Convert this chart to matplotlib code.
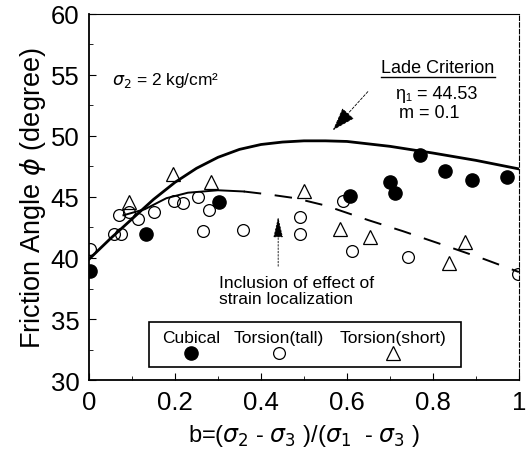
import matplotlib
matplotlib.use('Agg')
import matplotlib.pyplot as plt
import numpy as np

plt.rcParams['font.family'] = ['Liberation Sans', 'DejaVu Sans']

# --- data ---
cub_b = [0.002, 0.132, 0.303, 0.607, 0.700, 0.712, 0.770, 0.829, 0.891, 0.973]
cub_phi = [38.9, 42.0, 44.6, 45.1, 46.2, 45.3, 48.4, 47.15, 46.4, 46.6]

tall_b = [0.002, 0.057, 0.070, 0.074, 0.093, 0.113, 0.152, 0.198, 0.218, 0.253,
          0.265, 0.280, 0.358, 0.490, 0.490, 0.591, 0.611, 0.743, 0.998]
tall_phi = [40.7, 42.0, 43.5, 42.0, 43.8, 43.2, 43.8, 44.7, 44.5, 45.0,
            42.2, 43.9, 42.3, 43.35, 42.0, 44.7, 40.6, 40.05, 38.7]

short_b = [0.093, 0.195, 0.284, 0.500, 0.584, 0.654, 0.837, 0.875]
short_phi = [44.6, 46.9, 46.2, 45.5, 42.4, 41.7, 39.6, 41.3]

lade_b = [0.0, 0.05, 0.10, 0.15, 0.20, 0.25, 0.30, 0.35, 0.40, 0.45, 0.50,
          0.55, 0.60, 0.70, 0.80, 0.90, 1.0]
lade_phi = [39.9, 41.6, 43.2, 44.8, 46.2, 47.35, 48.25, 48.9, 49.3, 49.5, 49.6,
            49.6, 49.55, 49.15, 48.6, 48.0, 47.3]

loc_b = [0.08, 0.13, 0.18, 0.23, 0.30, 0.36]
loc_phi = [43.5, 44.0, 44.9, 45.35, 45.55, 45.45]
locd_b = [0.36, 0.42, 0.48, 0.55, 0.65, 0.73, 0.83, 0.92, 1.0]
locd_phi = [45.45, 45.2, 44.9, 44.3, 43.1, 42.2, 41.0, 39.9, 38.85]

fig = plt.figure(figsize=(5.3, 4.52), dpi=100)
ax = fig.add_axes([0.168, 0.157, 0.811, 0.81])
ax.set_xlim(0, 1)
ax.set_ylim(30, 60)

ax.plot(lade_b, lade_phi, color='black', lw=2.0, zorder=3)
ax.plot(loc_b, loc_phi, color='black', lw=1.4, zorder=3)
ax.plot(locd_b, locd_phi, color='black', lw=1.4, dashes=(9, 7), zorder=3)

ax.plot(tall_b, tall_phi, 'o', ms=8.5, mfc='none', mec='black', mew=0.9, zorder=4)
ax.plot(short_b, short_phi, '^', ms=9.5, mfc='none', mec='black', mew=0.9, zorder=4)
ax.plot(cub_b, cub_phi, 'o', ms=9.5, color='black', zorder=5)

# annotations
ax.text(0.053, 54.6, r'$\sigma_2$ = 2 kg/cm²', fontsize=12.5, ha='left', va='center')
ax.text(0.81, 55.6, 'Lade Criterion', fontsize=13, ha='center', va='center')
ax.plot([0.68, 0.945], [54.85, 54.85], color='black', lw=1.0)
ax.text(0.715, 53.45, 'η₁ = 44.53', fontsize=13, ha='left', va='center',
        family=['Liberation Sans', 'DejaVu Sans'])
ax.text(0.72, 51.95, 'm = 0.1', fontsize=13, ha='left', va='center')
ax.annotate('', xy=(0.563, 50.3), xytext=(0.653, 53.8),
            arrowprops=dict(arrowstyle='-|>,head_length=1.5,head_width=0.5',
                            color='black', lw=0.6, ls=(0, (3, 2))))
ax.annotate('', xy=(0.44, 43.6), xytext=(0.44, 39.1),
            arrowprops=dict(arrowstyle='-|>,head_length=1.3,head_width=0.3',
                            color='black', lw=0.6, ls=(0, (2, 2))))
ax.text(0.303, 37.35, 'Inclusion of effect of\nstrain localization', fontsize=12.5,
        ha='left', va='center', linespacing=1.1)

# legend drawn by hand: labels above markers
leg = plt.Rectangle((0.14, 31.05), 0.725, 3.7, fill=False, ec='black', lw=1.2, zorder=6)
ax.add_patch(leg)
leg_x = [0.237, 0.442, 0.708]
leg_labels = ['Cubical', 'Torsion(tall)', 'Torsion(short)']
for xx, lab in zip(leg_x, leg_labels):
    ax.text(xx, 33.45, lab, fontsize=12.5, ha='center', va='center', zorder=7)
ax.plot([leg_x[0]], [32.2], 'o', ms=9.5, color='black', zorder=7)
ax.plot([leg_x[1]], [32.2], 'o', ms=8.5, mfc='none', mec='black', mew=0.9, zorder=7)
ax.plot([leg_x[2]], [32.2], '^', ms=9.5, mfc='none', mec='black', mew=0.9, zorder=7)

ax.set_xticks([0, 0.2, 0.4, 0.6, 0.8, 1.0])
ax.set_xticklabels(['0', '0.2', '0.4', '0.6', '0.8', '1'])
ax.set_yticks([30, 35, 40, 45, 50, 55, 60])
ax.set_yticks(np.arange(30, 60, 2.5), minor=True)
ax.set_xticks([0.1, 0.3, 0.5, 0.7, 0.9], minor=True)
ax.tick_params(axis='both', which='major', direction='in', labelsize=18.5, length=5, pad=7)
ax.tick_params(axis='both', which='minor', direction='in', length=3)

ax.set_ylabel(r'Friction Angle $\phi$ (degree)', fontsize=19.5, labelpad=2)
ax.set_xlabel(r'b=($\sigma_2$ - $\sigma_3$ )/($\sigma_1$  - $\sigma_3$ )', fontsize=17, labelpad=6)

for s in ['left', 'bottom']:
    ax.spines[s].set_linewidth(1.3)
ax.spines['top'].set_linewidth(0.8)
ax.spines['right'].set_linewidth(0.8)
ax.spines['right'].set_linestyle((0, (4, 2)))

fig.savefig('out.png', dpi=100, facecolor='white')
